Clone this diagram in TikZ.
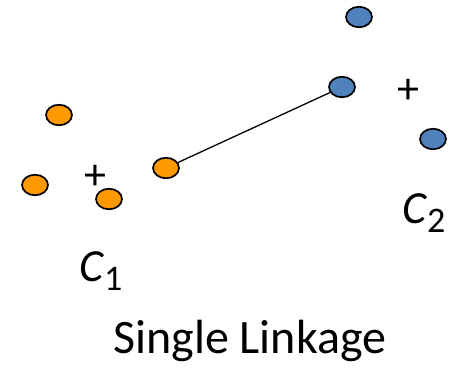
\documentclass[tikz,border=0pt]{standalone}
\usepackage{fontspec}
\setmainfont{Carlito}
\definecolor{ptorange}{RGB}{255,153,0}
\definecolor{ptblue}{RGB}{79,129,189}
\tikzset{
  pt/.style={ellipse, draw=black, line width=1.7pt, minimum width=26pt, minimum height=20.5pt, inner sep=0pt},
  orangept/.style={pt, fill=ptorange},
  bluept/.style={pt, fill=ptblue},
  centroid/.style={inner sep=0pt, font=\fontsize{44}{44}\selectfont},
  clabel/.style={inner sep=0pt, anchor=base west, font=\fontsize{46}{46}\selectfont},
}
\usetikzlibrary{shapes.geometric}
\newcommand{\clsub}[1]{\raisebox{-9pt}{\fontsize{36}{36}\selectfont #1}}
\begin{document}
\begin{tikzpicture}[x=1pt,y=-1pt]
\useasboundingbox (0,0) rectangle (458,368);
% orange cluster
\node[orangept] (o1) at (59,115) {};
\node[orangept] (o2) at (35,185) {};
\node[orangept] (o3) at (109,199) {};
\node[orangept] (o4) at (166,168) {};
\node[centroid] (p1) at (95,177) {+};
% blue cluster
\node[bluept] (b1) at (359,17) {};
\node[bluept] (b2) at (342,87) {};
\node[bluept] (b3) at (433,139) {};
\node[centroid] (p2) at (408,91) {+};
% link
\draw[line width=1.3pt] (o4) -- (b2);
% labels
\node[clabel] (c1) at (79,281) {\textit{C}\clsub{1}};
\node[clabel] (c2) at (402,223) {\textit{C}\clsub{2}};
\node[inner sep=0pt, anchor=base west, font=\fontsize{48}{48}\selectfont] (title) at (113,353) {Single Linkage};
\end{tikzpicture}
\end{document}
